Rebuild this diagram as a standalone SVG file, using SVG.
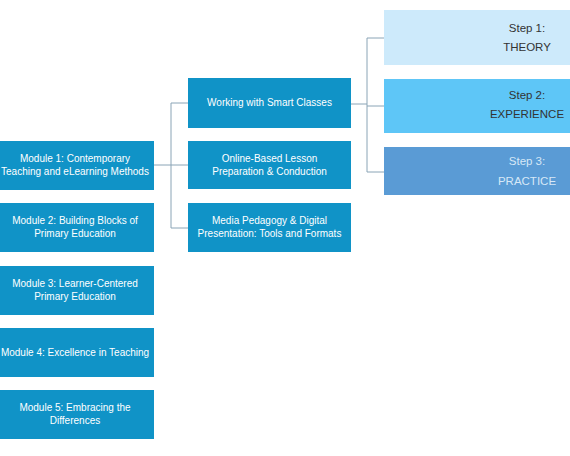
<svg xmlns="http://www.w3.org/2000/svg" width="570" height="456" viewBox="0 0 570 456">
<style>
.m{fill:#1093c7}
.t{font-family:"Liberation Sans",Arial,sans-serif;font-size:10px;fill:#ffffff;text-anchor:middle}
.s{font-family:"Liberation Sans",Arial,sans-serif;font-size:11.5px;text-anchor:middle}
.c{fill:none;stroke:#8aa4b6;stroke-width:1}
</style>
<rect width="570" height="456" fill="#ffffff"/>
<g id="connectors">
<path class="c" d="M154,165 H171 M171,103 V228 M171,103 H188 M171,165 H188 M171,228 H188"/>
<path class="c" d="M351,104 H367 M367,38 V172 M367,38 H384 M367,106 H384 M367,172 H384"/>
</g>
<g id="module1"><rect class="m" x="-2" y="141" width="156" height="49"/><text class="t" x="75" y="162">Module 1: Contemporary</text><text class="t" x="75" y="175">Teaching and eLearning Methods</text></g>
<g id="module2"><rect class="m" x="-2" y="203" width="156" height="49"/><text class="t" x="75" y="224">Module 2: Building Blocks of</text><text class="t" x="75" y="237">Primary Education</text></g>
<g id="module3"><rect class="m" x="-2" y="266" width="156" height="49"/><text class="t" x="75" y="287">Module 3: Learner-Centered</text><text class="t" x="75" y="300">Primary Education</text></g>
<g id="module4"><rect class="m" x="-2" y="328" width="156" height="49"/><text class="t" x="75" y="356">Module 4: Excellence in Teaching</text></g>
<g id="module5"><rect class="m" x="-2" y="390" width="156" height="49"/><text class="t" x="75" y="411">Module 5: Embracing the</text><text class="t" x="75" y="424">Differences</text></g>
<g id="smart"><rect class="m" x="188" y="78" width="163" height="50"/><text class="t" x="269.5" y="106">Working with Smart Classes</text></g>
<g id="online"><rect class="m" x="188" y="141" width="163" height="48"/><text class="t" x="269.5" y="162">Online-Based Lesson</text><text class="t" x="269.5" y="175">Preparation &amp; Conduction</text></g>
<g id="media"><rect class="m" x="188" y="203" width="163" height="49"/><text class="t" x="269.5" y="224">Media Pedagogy &amp; Digital</text><text class="t" x="269.5" y="237">Presentation: Tools and Formats</text></g>
<g id="step1"><rect x="384" y="10" width="188" height="55" fill="#cdeafb"/><text class="s" x="527" y="32" fill="#333333">Step 1:</text><text class="s" x="527" y="51" fill="#333333">THEORY</text></g>
<g id="step2"><rect x="384" y="79" width="188" height="54" fill="#5ec6f7"/><text class="s" x="527" y="99" fill="#333333">Step 2:</text><text class="s" x="527" y="118" fill="#333333">EXPERIENCE</text></g>
<g id="step3"><rect x="384" y="147" width="188" height="48" fill="#5a9bd5"/><text class="s" x="527" y="165" fill="#d6e8f7">Step 3:</text><text class="s" x="527" y="185" fill="#d6e8f7">PRACTICE</text></g>
</svg>
